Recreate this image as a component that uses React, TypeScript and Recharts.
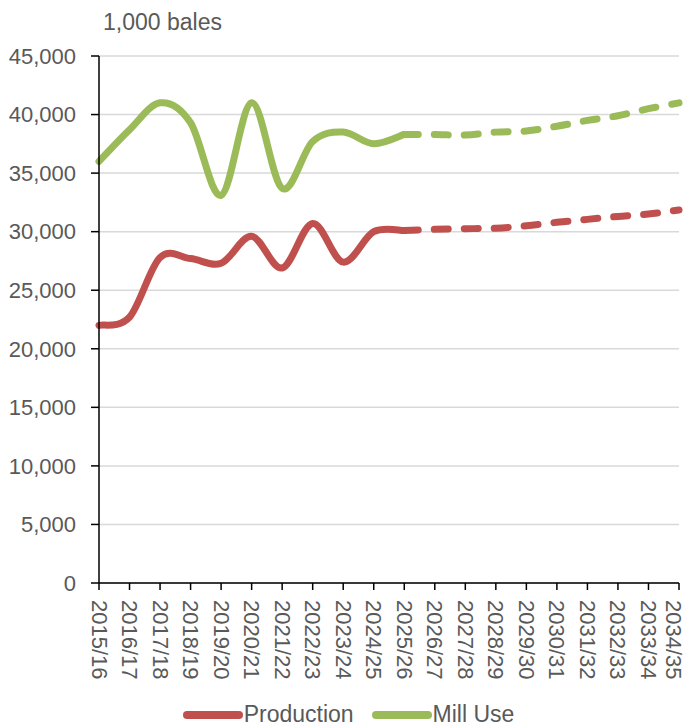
import React from 'react';
import { LineChart, Line, XAxis, YAxis, CartesianGrid, Legend } from 'recharts';

// marketing years, last reported year is 2025/26, the rest is projection
const years = [
  '2015/16', '2016/17', '2017/18', '2018/19', '2019/20', '2020/21', '2021/22',
  '2022/23', '2023/24', '2024/25', '2025/26', '2026/27', '2027/28', '2028/29',
  '2029/30', '2030/31', '2031/32', '2032/33', '2033/34', '2034/35',
];
const production = [
  22000, 22700, 27800, 27700, 27300, 29600, 26900, 30700, 27400, 30000,
  30100, 30200, 30250, 30300, 30500, 30800, 31050, 31300, 31500, 31850,
];
const millUse = [
  36000, 38700, 41000, 39300, 33100, 41000, 33700, 37700, 38500, 37500,
  38300, 38300, 38250, 38500, 38600, 39000, 39500, 39900, 40500, 41000,
];
const lastActual = '2025/26';
const yTicks = [0, 5000, 10000, 15000, 20000, 25000, 30000, 35000, 40000, 45000];
const unitLabel = '1,000 bales';

const RED = '#C0504D';
const GREEN = '#9BBB59';
const TEXT = '#595959';
const FONT = '"Liberation Sans", Arial, sans-serif';

const legendItems = [
  { name: 'Production', color: RED },
  { name: 'Mill Use', color: GREEN },
];

const cut = years.indexOf(lastActual);
const data = years.map((year, i) => ({
  year,
  prodHist: i <= cut ? production[i] : null,
  prodProj: i >= cut ? production[i] : null,
  millHist: i <= cut ? millUse[i] : null,
  millProj: i >= cut ? millUse[i] : null,
}));

// excel-like smoothed line (catmull-rom as bezier)
const excelCurve = (context: any) => {
  let pts: number[][] = [];
  return {
    areaStart() {},
    areaEnd() {},
    lineStart() { pts = []; },
    point(x: number, y: number) { pts.push([+x, +y]); },
    lineEnd() {
      const n = pts.length;
      if (!n) return;
      context.moveTo(pts[0][0], pts[0][1]);
      for (let i = 0; i < n - 1; i++) {
        const p0 = pts[Math.max(i - 1, 0)];
        const p1 = pts[i];
        const p2 = pts[i + 1];
        const p3 = pts[Math.min(i + 2, n - 1)];
        context.bezierCurveTo(
          p1[0] + (p2[0] - p0[0]) / 6, p1[1] + (p2[1] - p0[1]) / 6,
          p2[0] - (p3[0] - p1[0]) / 6, p2[1] - (p3[1] - p1[1]) / 6,
          p2[0], p2[1],
        );
      }
    },
  };
};

const fmt = (v: number) => new Intl.NumberFormat('en-US').format(v);

// last label gets pushed inside the chart like excel does
const XTick = ({ x, y, payload }: any) => (
  <text
    transform={`translate(${Math.min(x, 673)},${y}) rotate(90)`}
    textAnchor="start"
    dominantBaseline="central"
    fontSize={22}
    fontFamily={FONT}
    fill={TEXT}
  >
    {payload.value}
  </text>
);

const UnitLabel = ({ viewBox }: any) => (
  <text x={viewBox.x + viewBox.width + 4} y={viewBox.y - 26} fontSize={23} fontFamily={FONT} fill={TEXT}>
    {unitLabel}
  </text>
);

const LegendContent = () => (
  <div style={{ height: 36, display: 'flex', justifyContent: 'center', alignItems: 'flex-end', paddingLeft: 18, fontFamily: FONT, fontSize: 23, color: TEXT }}>
    {legendItems.map((item) => (
      <div key={item.name} style={{ display: 'flex', alignItems: 'center', margin: '0 9px' }}>
        <svg width={60} height={12} style={{ marginRight: 1 }}>
          <line x1={4} y1={6} x2={56} y2={6} stroke={item.color} strokeWidth={8} strokeLinecap="round" />
        </svg>
        <span>{item.name}</span>
      </div>
    ))}
  </div>
);

export default function App() {
  return (
    <div>
      <style>{'body{margin:0}'}</style>
      <LineChart width={688} height={728} data={data} margin={{ top: 56, right: 9, bottom: 0, left: 0 }}>
        <CartesianGrid vertical={false} stroke="#d9d9d9" strokeWidth={1.5} />
        <XAxis
          dataKey="year"
          interval={0}
          height={109}
          tickSize={7}
          tickMargin={10}
          tick={<XTick />}
          axisLine={{ stroke: '#000', strokeWidth: 1.5 }}
          tickLine={{ stroke: '#000', strokeWidth: 1.5 }}
        />
        <YAxis
          width={99}
          domain={[0, 45000]}
          ticks={yTicks}
          interval={0}
          tickFormatter={fmt}
          tickSize={8}
          tickMargin={15}
          tick={{ fill: TEXT, fontSize: 22, fontFamily: FONT }}
          axisLine={{ stroke: '#000', strokeWidth: 1.5 }}
          tickLine={{ stroke: '#000', strokeWidth: 1.5 }}
          label={<UnitLabel />}
        />
        <Legend verticalAlign="bottom" content={<LegendContent />} />
        <Line dataKey="prodHist" type={excelCurve as any} stroke={RED} strokeWidth={7} strokeLinecap="round" dot={false} activeDot={false} isAnimationActive={false} />
        <Line dataKey="prodProj" type={excelCurve as any} stroke={RED} strokeWidth={7} strokeLinecap="round" strokeDasharray="14 16" dot={false} activeDot={false} isAnimationActive={false} />
        <Line dataKey="millHist" type={excelCurve as any} stroke={GREEN} strokeWidth={7} strokeLinecap="round" dot={false} activeDot={false} isAnimationActive={false} />
        <Line dataKey="millProj" type={excelCurve as any} stroke={GREEN} strokeWidth={7} strokeLinecap="round" strokeDasharray="14 16" dot={false} activeDot={false} isAnimationActive={false} />
      </LineChart>
    </div>
  );
}
